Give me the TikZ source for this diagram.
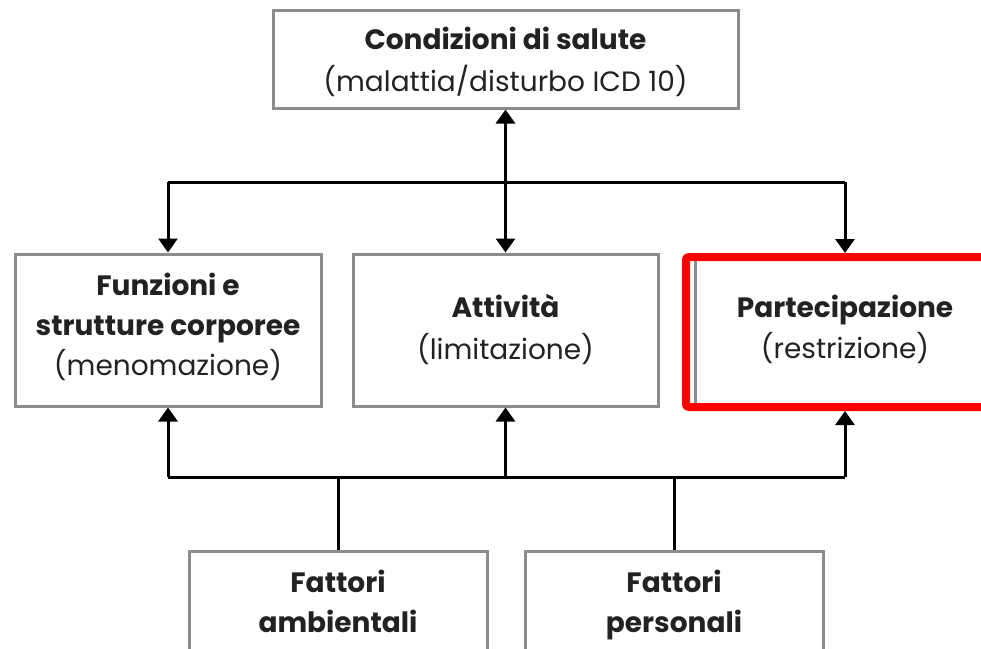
\documentclass[tikz,border=0pt]{standalone}
\usepackage{fontspec}
\setmainfont{Poppins}
\usepackage{xcolor}
\usetikzlibrary{arrows.meta,positioning,calc}

\definecolor{boxgray}{HTML}{8C8C8C}
\definecolor{textgray}{HTML}{222222}
% fixed first-line height and last-line depth
\newcommand{\txtup}[1]{\rule{0pt}{#1pt}}
\newcommand{\txtdn}[1]{\rule[-#1pt]{0pt}{0pt}}

\begin{document}
\begin{tikzpicture}[
  x=1pt, y=-1pt,
  icfbox/.style={draw=boxgray, line width=3pt, rectangle, align=center,
    text=textgray, inner sep=0pt, font=\fontsize{28}{40}\selectfont},
  upper/.style={icfbox, minimum width=305pt, minimum height=152pt},
  lower/.style={icfbox, minimum width=298pt, minimum height=104pt},
  link/.style={line width=3pt, black},
  ptr/.style={link, -{Triangle[width=19pt,length=14pt]}},
  both/.style={link, {Triangle[width=19pt,length=14pt]}-{Triangle[width=19pt,length=14pt]}},
  redframe/.style={draw=red, line width=8pt, rounded corners=3pt,
    minimum width=304pt, minimum height=150pt, inner sep=0pt}
]
\path[use as bounding box, fill=white] (0,0) rectangle (981,648);

\node[icfbox, minimum width=465pt, minimum height=98pt, font=\fontsize{28}{42}\selectfont]
  (health) at (505.5,59) {\txtup{32}\textbf{Condizioni di salute}\\(malattia/disturbo ICD 10)\txtdn{10}};
\node[upper, minimum width=306pt]
  (body) at (168,330) {\txtup{24}\textbf{Funzioni e}\\\textbf{strutture corporee}\\(menomazione)\txtdn{14}};
\node[upper, font=\fontsize{28}{42}\selectfont]
  (activ) at (505.5,330) {\txtup{26}\textbf{Attività}\\(limitazione)\txtdn{10}};
\node[upper, minimum width=300pt, minimum height=150pt, font=\fontsize{28}{41}\selectfont]
  (partic) at (845,332) {\txtup{24}\textbf{Partecipazione}\\(restrizione)\txtdn{13}};
\node[lower] (env) at (338,603) {\txtup{28}\textbf{Fattori}\\\textbf{ambientali}\txtdn{10}};
\node[lower] (pers) at (674,603) {\txtup{28}\textbf{Fattori}\\\textbf{personali}\txtdn{10}};

% junctions of the two buses
\coordinate (tl) at (168,182);
\coordinate (tr) at (845,182);
\coordinate (bl) at (168,477);
\coordinate (br) at (845,477);

\node[redframe] (frame) at (838,332) {};

\draw[both] (health.south) -- (activ.north);
\draw[link] (tl) -- (tr);
\draw[ptr] (tl) -- (body.north);
\draw[ptr] (tr) -- (tr |- frame.north);

\draw[link] (bl) -- (br);
\draw[ptr] (bl) -- (body.south);
\draw[ptr] (activ.south |- bl) -- (activ.south);
\draw[ptr] (br) -- (br |- frame.south);
\draw[link] (env.north |- bl) -- (env.north);
\draw[link] (pers.north |- bl) -- (pers.north);
\end{tikzpicture}
\end{document}
